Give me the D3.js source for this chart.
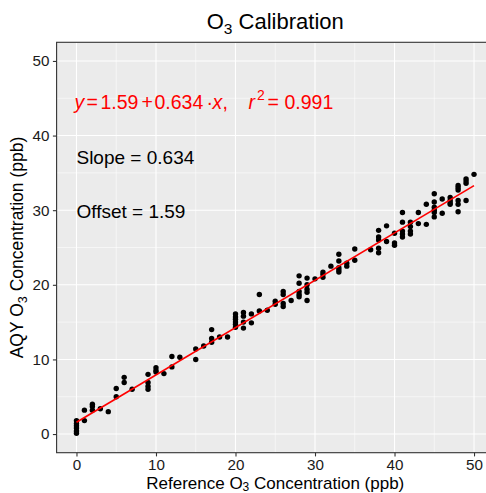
<!DOCTYPE html>
<html><head><meta charset="utf-8">
<script src="https://cdn.jsdelivr.net/npm/d3@7"></script>
<style>body{margin:0;background:#fff}svg{display:block}text{font-family:"Liberation Sans",Arial,sans-serif}</style>
</head><body>
<svg id="c" width="486" height="493"></svg>
<script>
// ---- data ----
const refConc = [0,0,0,0,0,0, 1,1, 2,2,2, 3, 4, 5,5, 6,6, 7, 9,9,9,9, 10,10,10, 11, 12,12, 13, 15,15, 16, 17,17,17, 18, 19,
 20,20,20,20,20,20, 21,21,21,21, 22,22, 23,23, 24, 25,25, 26,26,26,26, 27, 28,28,28,28,28, 29,29,29,29,29, 30, 31,31,31, 32,
 33,33,33,33,33, 34,34, 35,35, 37, 38,38,38,38,38, 39,39, 40,40,40, 41,41,41,41,41, 42,42,42,42, 43,43, 44,44,
 45,45,45,45,45,45, 46,46, 47,47,47,47, 48,48,48,48,48,48, 49,49,49,49, 50];
const aqyConc = [0.1,0.4,0.8,1.1,1.4,1.8, 3.2,1.8, 4.0,3.7,3.2, 3.4, 3.0, 6.1,5.0, 7.6,6.9, 6.0, 8.0,6.9,6.4,6.0, 8.9,8.5,8.3, 8.1, 10.4,9.0, 10.3, 11.4,10.0, 11.8, 14.0,12.8,12.3, 13.0, 13.0,
 16.1,15.7,15.4,15.0,14.7,14.3, 16.3,15.8,15.0,14.2, 16.1,14.9, 18.7,16.5, 16.6, 17.8,17.4, 19.1,18.7,17.5,17.1, 17.9, 21.2,20.2,19.1,18.7,18.4, 20.9,20.0,19.4,19.0,17.9, 20.8, 21.7,21.4,21.0, 22.5,
 24.1,23.2,22.3,22.0,21.7, 22.9,22.5, 24.8,23.3, 24.7, 27.3,26.4,26.0,24.9,24.3, 27.9,25.8, 26.9,25.6,25.3, 29.7,28.4,27.2,26.8,26.4, 28.4,27.8,27.2,26.8, 29.7,28.2, 30.8,28.1,
 32.2,31.1,30.4,30.0,29.7,29.1, 31.5,29.6, 31.7,31.3,31.0,30.8, 33.3,33.0,32.7,31.3,30.8,29.8, 34.2,33.9,33.6,31.3, 34.8];
const fitIntercept = 1.59, fitSlope = 0.634, rSquared = 0.991;
const fitRange = [0, 50];
const xTicks = [0,10,20,30,40,50];
const yTicks = [0,10,20,30,40,50];
const minorTicks = [5,15,25,35,45];
const titleText = "Calibration";
const xLabelParts = ["Reference O", "3", " Concentration (ppb)"];
const yLabelParts = ["AQY O", "3", " Concentration (ppb)"];
const slopeText = "Slope = 0.634";
const offsetText = "Offset = 1.59";
const annoPos = {eq:[0,43.6], slope:[0,36.2], offset:[0,28.9]};

// ---- chart ----
const svg = d3.select("#c");
const L = 56.6, R = 493.9, T = 42.3, B = 452.7;
const x = d3.scaleLinear().domain([-2.5, 52.5]).range([L, R]);
const y = d3.scaleLinear().domain([-2.5, 52.5]).range([B, T]);

svg.append("defs").append("clipPath").attr("id","pc")
  .append("rect").attr("x",L).attr("y",T).attr("width",R-L).attr("height",B-T);

svg.append("rect").attr("x",L).attr("y",T).attr("width",R-L).attr("height",B-T).attr("fill","#EBEBEB");
const g = svg.append("g").attr("clip-path","url(#pc)");
g.selectAll(".mx").data(minorTicks).join("line").attr("x1",d=>x(d)).attr("x2",d=>x(d)).attr("y1",T).attr("y2",B)
  .attr("stroke","#fff").attr("stroke-width",0.55);
g.selectAll(".my").data(minorTicks).join("line").attr("y1",d=>y(d)).attr("y2",d=>y(d)).attr("x1",L).attr("x2",R)
  .attr("stroke","#fff").attr("stroke-width",0.55);
g.selectAll(".gx").data(xTicks).join("line").attr("x1",d=>x(d)).attr("x2",d=>x(d)).attr("y1",T).attr("y2",B)
  .attr("stroke","#fff").attr("stroke-width",1.1);
g.selectAll(".gy").data(yTicks).join("line").attr("y1",d=>y(d)).attr("y2",d=>y(d)).attr("x1",L).attr("x2",R)
  .attr("stroke","#fff").attr("stroke-width",1.1);

const pts = refConc.map((v,i)=>({x:v,y:aqyConc[i]}));
g.selectAll("circle").data(pts).join("circle").attr("cx",d=>x(d.x)).attr("cy",d=>y(d.y)).attr("r",2.7).attr("fill","#000");

const line = d3.line().x(d=>x(d)).y(d=>y(fitIntercept+fitSlope*d));
g.append("path").datum(fitRange).attr("d",line).attr("stroke","#FF0000").attr("stroke-width",1.7).attr("fill","none");

svg.append("rect").attr("x",L).attr("y",T).attr("width",R-L).attr("height",B-T).attr("fill","none")
  .attr("stroke","#333333").attr("stroke-width",1.1);

const xa = svg.append("g").attr("transform",`translate(0,${B})`)
  .call(d3.axisBottom(x).tickValues(xTicks).tickSize(3.7).tickPadding(3).tickFormat(d3.format("d")));
const ya = svg.append("g").attr("transform",`translate(${L},0)`)
  .call(d3.axisLeft(y).tickValues(yTicks).tickSize(3.7).tickPadding(3.5).tickFormat(d3.format("d")));
[xa,ya].forEach(a=>{
  a.select(".domain").remove();
  a.selectAll(".tick line").attr("stroke","#333333").attr("stroke-width",1.1);
  a.selectAll(".tick text").attr("fill","#1a1a1a").style("font-size","15.2px").style("font-family","'Liberation Sans',Arial,sans-serif");
});

const cx = (L+R)/2;
const tt = svg.append("text").attr("x",cx).attr("y",28.5).attr("text-anchor","middle").style("font-size","22px").attr("fill","#000");
tt.append("tspan").text("O");
tt.append("tspan").text("3").attr("baseline-shift","-30%").style("font-size","15.5px");
tt.append("tspan").text(" "+titleText);

const xl = svg.append("text").attr("x",cx).attr("y",489).attr("text-anchor","middle").style("font-size","17px").attr("fill","#000");
xl.append("tspan").text(xLabelParts[0]);
xl.append("tspan").text(xLabelParts[1]).attr("baseline-shift","-18%").style("font-size","12px");
xl.append("tspan").text(xLabelParts[2]);

const cy = (T+B)/2;
const yl = svg.append("text").attr("transform",`translate(23,${cy}) rotate(-90)`).attr("text-anchor","middle").style("font-size","17.5px").attr("fill","#000");
yl.append("tspan").text(yLabelParts[0]);
yl.append("tspan").text(yLabelParts[1]).attr("baseline-shift","-30%").style("font-size","12.5px");
yl.append("tspan").text(yLabelParts[2]);

// equation (plotmath-like spacing)
const ex = x(annoPos.eq[0]), ey = y(annoPos.eq[1]);
const eq = svg.append("text").attr("y",ey).style("font-size","19.5px").attr("fill","#FF0000");
const parts = [
  {t:"y", o:-2, it:true}, {t:"=", o:10}, {t:String(fitIntercept), o:24}, {t:"+", o:65},
  {t:String(fitSlope), o:78}, {t:"\u00B7", o:130}, {t:"x", o:136, it:true}, {t:",", o:146},
  {t:"r", o:172, it:true}, {t:"2", o:180.5, sup:true}, {t:"=", o:191}, {t:String(rSquared), o:208}
];
parts.forEach(p=>{
  const s = eq.append("tspan").attr("x", ex + p.o).attr("y", p.sup ? ey-9 : ey).text(p.t);
  if (p.it) s.style("font-style","italic");
  if (p.sup) s.style("font-size","14px");
});

svg.append("text").attr("x",x(annoPos.slope[0])).attr("y",y(annoPos.slope[1])).style("font-size","19px").attr("fill","#000").text(slopeText);
svg.append("text").attr("x",x(annoPos.offset[0])).attr("y",y(annoPos.offset[1])).style("font-size","19px").attr("fill","#000").text(offsetText);
</script>
</body></html>
